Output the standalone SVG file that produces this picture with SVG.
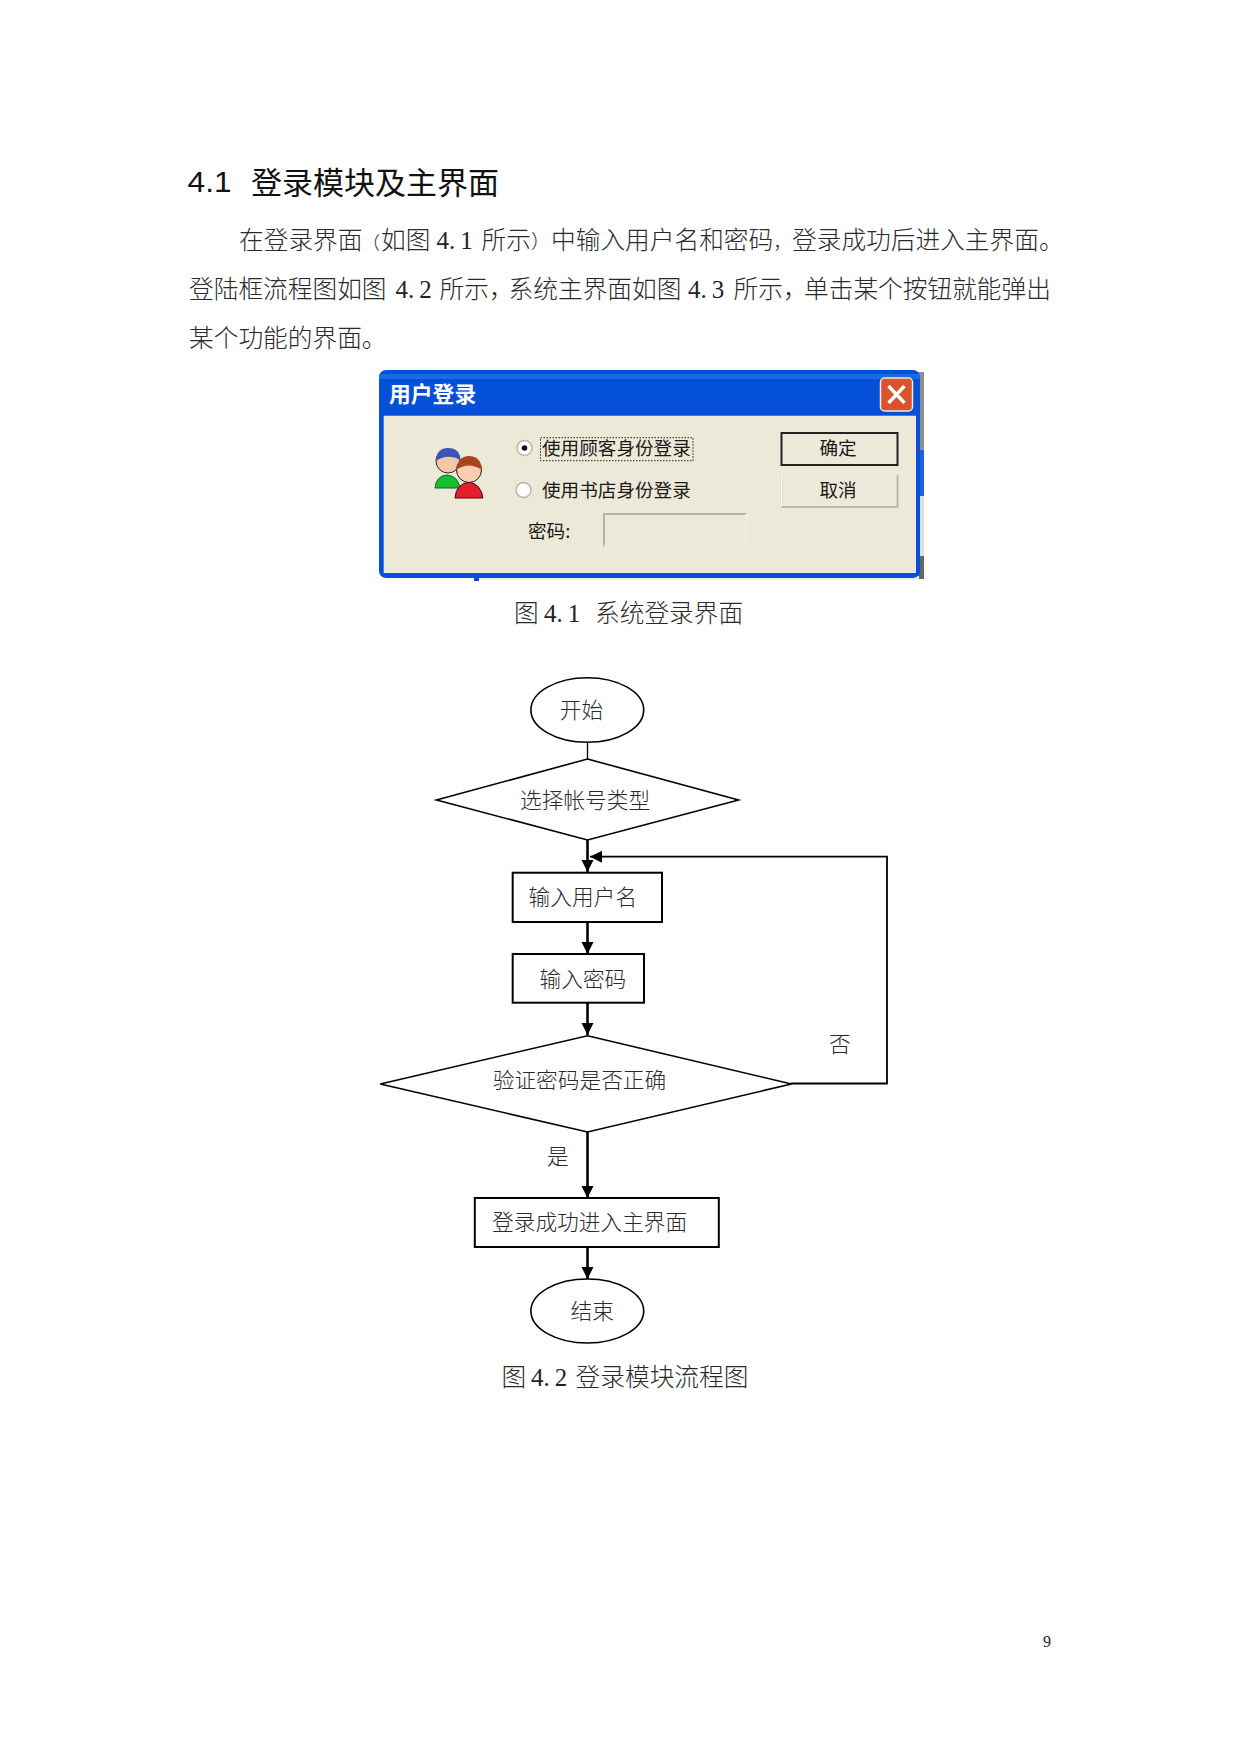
<svg xmlns="http://www.w3.org/2000/svg" width="1241" height="1754" viewBox="0 0 1241 1754">
<style>
.t{font-family:"Noto Sans CJK SC","Liberation Sans",sans-serif;fill:#2a2a2a;font-weight:300}
.body{font-size:24.7px}
.n{font-family:"Liberation Serif",serif;font-size:25px;fill:#222}
.fc{font-size:21.7px;text-anchor:start}
.ui{font-family:"Noto Sans CJK SC",sans-serif;font-size:18.6px;fill:#1a1a1a}
.shape{fill:#fff;stroke:#000;stroke-width:1.6}
.box{fill:#fff;stroke:#000;stroke-width:2}
.conn{fill:none;stroke:#000;stroke-width:2.6}
.thin{fill:none;stroke:#000;stroke-width:1.3}
</style>
<defs>
<marker id="arrow" markerUnits="userSpaceOnUse" markerWidth="13" markerHeight="13" refX="12" refY="6" orient="auto">
<path d="M0,0L12,6L0,12Z" fill="#000"/>
</marker>
</defs>
<rect width="1241" height="1754" fill="#fff"/>

<g id="text-block">
<text x="187.6" y="192" font-family="Liberation Sans,sans-serif" font-size="30" textLength="44" lengthAdjust="spacingAndGlyphs" fill="#111">4.1</text>
<text x="251" y="194" class="t" font-size="31" style="font-weight:400;fill:#111">登录模块及主界面</text>
<text y="249.3" class="t body"><tspan x="239">在登录界面</tspan><tspan x="362" font-size="18">（</tspan><tspan x="381">如图</tspan><tspan x="481.6">所示</tspan><tspan x="531" font-size="19">）</tspan><tspan x="551">中输入用户名和密码</tspan><tspan x="773.5" font-size="18">，</tspan><tspan x="792">登录成功后进入主界面。</tspan></text>
<text x="436.5" y="249" class="n">4.<tspan dx="5">1</tspan></text>
<text y="298.3" class="t body"><tspan x="189">登陆框流程图如图</tspan><tspan x="439.5">所示，</tspan><tspan x="508.6">系统主界面如图</tspan><tspan x="733.6">所示，</tspan><tspan x="804">单击某个按钮就能弹出</tspan></text>
<text x="395.5" y="298" class="n">4.<tspan dx="5">2</tspan></text>
<text x="688" y="298" class="n">4.<tspan dx="5">3</tspan></text>
<text x="189" y="347.3" class="t body">某个功能的界面。</text>
</g>

<g id="login-dialog">
<rect x="915" y="372" width="9" height="78" fill="#8f8f8f"/>
<rect x="915" y="450" width="9" height="46" fill="#1f62d8"/>
<rect x="915" y="496" width="9" height="60" fill="#dedede"/>
<rect x="915" y="556" width="9" height="23" fill="#666"/>
<rect x="474" y="576" width="5" height="5" fill="#0b4fd0"/>
<rect x="479" y="576" width="440" height="4" fill="#f1efe4"/>
<rect x="379" y="370" width="541" height="208" rx="7" fill="#0550d8"/>
<rect x="379" y="374" width="541" height="5" fill="#2d78f0" opacity=".6"/>
<rect x="383.7" y="415.7" width="532.3" height="157.3" fill="#ece9d8"/>
<text x="389" y="401.5" font-family="Noto Sans CJK SC,sans-serif" font-size="21.8" font-weight="700" fill="#fff">用户登录</text>
<rect x="880.5" y="378" width="32" height="33" rx="4" fill="#d9532c" stroke="#f3e6df" stroke-width="1.5"/>
<path d="M888.5,386L904.5,403M904.5,386L888.5,403" stroke="#fff" stroke-width="3.4" fill="none"/>
<g id="user-icon">
<path d="M435,488Q436,476 447,475Q458,476 460,488Z" fill="#16c22c" stroke="#063" stroke-width="1"/>
<circle cx="448" cy="461" r="12" fill="#f5c8a5" stroke="#223" stroke-width="1"/>
<path d="M435.5,461Q437,448 448,448Q460,448 460.5,460Q448,453 435.5,461Z" fill="#3a55b5"/>
<path d="M455,498Q456,484 469,482Q481,484 483,498Z" fill="#e0202c" stroke="#500" stroke-width="1"/>
<circle cx="469" cy="470" r="12.5" fill="#f8cfae" stroke="#311" stroke-width="1"/>
<path d="M456,470Q458,456 469,456Q481,456 482,470Q469,461 456,470Z" fill="#a5461e"/>
</g>
<circle cx="524.5" cy="448" r="7.5" fill="#fff" stroke="#b5b3a6" stroke-width="1.4"/>
<circle cx="524.5" cy="448" r="2.8" fill="#111"/>
<text x="542" y="454.5" class="ui">使用顾客身份登录</text>
<rect x="540.5" y="437.7" width="152.5" height="23" fill="none" stroke="#222" stroke-width="1" stroke-dasharray="1.5 1.5"/>
<circle cx="523.5" cy="490" r="7.5" fill="#fff" stroke="#b5b3a6" stroke-width="1.4"/>
<text x="542" y="496.5" class="ui">使用书店身份登录</text>
<text x="528" y="537.5" class="ui">密码:</text>
<rect x="604" y="514" width="142" height="32" fill="#ece9d8" stroke="#a8a698" stroke-width="1.6"/>
<path d="M604,546H746V514" fill="none" stroke="#fdfdf8" stroke-width="1.6"/>
<rect x="781.5" y="433" width="116" height="32" fill="#ece9d8" stroke="#222" stroke-width="2"/>
<text x="819.5" y="454.5" class="ui">确定</text>
<rect x="781.5" y="475" width="116" height="32" fill="#ece9d8" stroke="#b0ae9f" stroke-width="1.6"/>
<path d="M781.5,507V475H897.5" fill="none" stroke="#fdfdf8" stroke-width="1.6"/>
<text x="819.5" y="496.5" class="ui">取消</text>
</g>
<text y="622" class="t body"><tspan x="514">图</tspan><tspan x="595">系统登录界面</tspan></text>
<text x="544" y="622" class="n">4.<tspan dx="5">1</tspan></text>

<g id="connectors">
<path class="thin" d="M587.5,742V759"/>
<path class="conn" d="M587.5,840V872" marker-end="url(#arrow)"/>
<path class="conn" d="M587.5,922V954" marker-end="url(#arrow)"/>
<path class="conn" d="M587.5,1003V1035" marker-end="url(#arrow)"/>
<path class="conn" d="M587.5,1132V1198" marker-end="url(#arrow)"/>
<path class="conn" d="M587.5,1247V1279" marker-end="url(#arrow)"/>
<path class="conn" style="stroke-width:1.8" d="M791,1083.5H887V856.7H590" marker-end="url(#arrow)"/>
</g>

<g id="node-start">
<ellipse class="shape" cx="587.3" cy="710" rx="56.4" ry="32.3"/>
<text x="559.8" y="718.2" class="t fc">开始</text>
</g>
<g id="node-choose">
<path class="shape" d="M587.5,759L738.5,800L587.5,840L436.5,800Z"/>
<text x="520" y="808.2" class="t fc">选择帐号类型</text>
</g>
<g id="node-username">
<rect class="box" x="512.7" y="872.7" width="149.3" height="49.3"/>
<text x="528.5" y="905.2" class="t fc">输入用户名</text>
</g>
<g id="node-password">
<rect class="box" x="512.7" y="954" width="131.3" height="48.7"/>
<text x="539.5" y="987.2" class="t fc">输入密码</text>
</g>
<g id="node-verify">
<path class="shape" d="M587.5,1035.7L791.5,1084L587.5,1132L380.3,1084Z"/>
<text x="492.7" y="1088.2" class="t fc">验证密码是否正确</text>
</g>
<g id="node-success">
<rect class="box" x="474.8" y="1198" width="244" height="49"/>
<text x="492" y="1230.2" class="t fc">登录成功进入主界面</text>
</g>
<g id="node-end">
<ellipse class="shape" cx="587.3" cy="1311" rx="56.4" ry="32"/>
<text x="570.5" y="1319.2" class="t fc">结束</text>
</g>
<text x="829" y="1051.7" class="t fc">否</text>
<text x="547" y="1164.2" class="t fc">是</text>
<text y="1386" class="t body"><tspan x="501.5">图</tspan><tspan x="575.6">登录模块流程图</tspan></text>
<text x="531" y="1386" class="n">4.<tspan dx="5">2</tspan></text>
<text x="1043" y="1647" font-family="Liberation Serif,serif" font-size="16" fill="#222">9</text>
</svg>
